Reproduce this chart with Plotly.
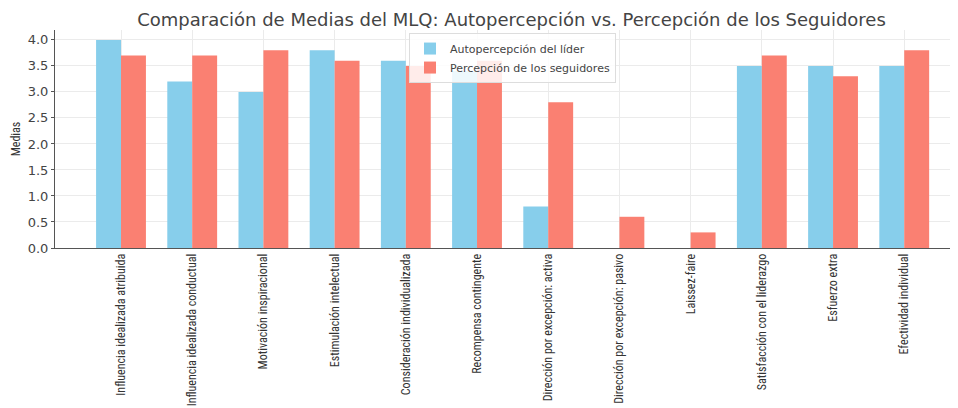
import plotly.graph_objects as go

categorias = ["Influencia idealizada atribuida", "Influencia idealizada conductual",
              "Motivación inspiracional", "Estimulación intelectual",
              "Consideración individualizada", "Recompensa contingente",
              "Dirección por excepción: activa", "Dirección por excepción: pasivo",
              "Laissez-faire", "Satisfacción con el liderazgo", "Esfuerzo extra",
              "Efectividad individual"]
autopercepcion = [4.0, 3.2, 3.0, 3.8, 3.6, 3.4, 0.8, 0.0, 0.0, 3.5, 3.5, 3.5]
seguidores = [3.7, 3.7, 3.8, 3.6, 3.5, 3.6, 2.8, 0.6, 0.3, 3.7, 3.3, 3.8]
y_ticks = [0.0, 0.5, 1.0, 1.5, 2.0, 2.5, 3.0, 3.5, 4.0]

idx = list(range(len(categorias)))
ancho = 0.35

fig = go.Figure()
fig.add_trace(go.Bar(x=[i - ancho / 2 for i in idx], y=autopercepcion, width=ancho,
                     name="Autopercepción del líder", marker_color="#87CEEB",
                     marker_line_width=0))
fig.add_trace(go.Bar(x=[i + ancho / 2 for i in idx], y=seguidores, width=ancho,
                     name="Percepción de los seguidores", marker_color="#FA8072",
                     marker_line_width=0))

dejavu = "DejaVu Sans, Verdana, sans-serif"
narrow = "Roboto Condensed, Liberation Sans Narrow, sans-serif"
# page body has an 8px margin, so the figure is 8px smaller than the window
fig.update_layout(
    width=950, height=400,
    margin=dict(l=47, r=0, t=22, b=160),
    paper_bgcolor="white", plot_bgcolor="white",
    font=dict(family=dejavu, color="#333333"),
    title=dict(text="Comparación de Medias del MLQ: Autopercepción vs. Percepción de los Seguidores",
               x=0.53, xanchor="center", y=0.97, yanchor="middle",
               font=dict(family=dejavu, size=18, color="#444444")),
    barmode="overlay",
    legend=dict(x=0.392, y=0.986, xanchor="left", yanchor="top",
                bgcolor="rgba(255,255,255,0.85)", bordercolor="#dddddd", borderwidth=1,
                font=dict(family=dejavu, size=11, color="#444444"), tracegroupgap=0,
                itemwidth=30),
    xaxis=dict(tickmode="array", tickvals=idx, ticktext=categorias, tickangle=-90,
               range=[-0.927, 11.755], showgrid=True, gridcolor="#ebebeb",
               showline=True, linecolor="#555555", linewidth=1,
               tickfont=dict(family=narrow, size=12, color="#333333"),
               ticks="", zeroline=False, automargin=False),
    yaxis=dict(range=[0, 4.19], tickvals=y_ticks, ticktext=[f"{v:.1f}" for v in y_ticks],
               showgrid=True, gridcolor="#ebebeb", showline=True, linecolor="#555555",
               linewidth=1, ticks="outside", ticklen=3, tickcolor="#555555",
               tickfont=dict(family=dejavu, size=13, color="#444444"), zeroline=False,
               automargin=False,
               title=dict(text="Medias", font=dict(family=narrow, size=12), standoff=4)),
)

fig.write_html("out.html")
